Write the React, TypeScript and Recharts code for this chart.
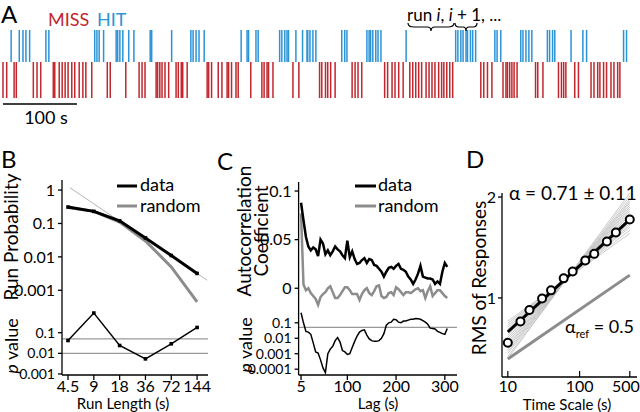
import React from 'react';
import {
  ComposedChart,
  ScatterChart,
  Scatter,
  Line,
  XAxis,
  YAxis,
  ReferenceLine,
} from 'recharts';

const FONT = 'Lato, "Open Sans", "DejaVu Sans", sans-serif';
const RED = '#c1272d';
const BLUE = '#2b93d6';
const GRAY = '#8c8c8c';

// A: response raster, times in seconds
const hitTimes = [
  11, 22, 27, 31, 36, 58, 62, 124, 127, 130, 136, 153, 155, 158, 162, 170, 177, 199, 201, 228,
  254, 257, 261, 265, 272, 322, 330, 332, 342, 345, 374, 377, 381, 384, 386, 396, 405, 411, 412,
  415, 419, 423, 458, 462, 465, 492, 495, 497, 500, 504, 507, 511, 545, 612, 615, 619, 622, 626,
  628, 632, 635, 639, 665, 668, 673, 700, 703, 707, 711, 715, 736, 739, 743, 746, 768, 784, 789,
  839, 843,
];
const missTimes = [
  0, 5, 15, 18, 41, 46, 51, 68, 70, 76, 80, 84, 88, 93, 97, 103, 108, 112, 120, 141, 145, 166,
  184, 188, 192, 207, 209, 212, 215, 219, 224, 234, 237, 241, 243, 249, 276, 278, 282, 291, 296,
  303, 305, 309, 315, 318, 335, 350, 353, 357, 359, 365, 392, 400, 428, 431, 436, 439, 443, 449,
  472, 476, 480, 485, 516, 520, 526, 530, 535, 541, 550, 554, 558, 562, 566, 572, 576, 580, 584,
  589, 593, 596, 600, 604, 608, 646, 650, 655, 661, 676, 680, 682, 685, 688, 691, 695, 720, 723,
  730, 751, 755, 758, 761, 773, 778, 795, 799, 804, 807, 812, 816, 822, 826, 831, 834,
];

// B: run length distribution
const runLengths = [4.5, 9, 18, 36, 72, 144];
const runProbData = [0.31, 0.23, 0.12, 0.037, 0.011, 0.0032];
const runProbRandom = [0.3, 0.23, 0.11, 0.03, 0.005, 0.00045];
const runPValue = [0.042, 0.9, 0.024, 0.0054, 0.029, 0.18];
const runProbTicks = [0.001, 0.01, 0.1, 1];
const runPTicks = [0.001, 0.01, 0.1];

// C: autocorrelation
const lags = [
  5, 10, 15, 20, 25, 30, 35, 40, 45, 50, 55, 60, 65, 70, 75, 80, 85, 90, 95, 100, 105, 110, 115,
  120, 125, 130, 135, 140, 145, 150, 155, 160, 165, 170, 175, 180, 185, 190, 195, 200, 205, 210,
  215, 220, 225, 230, 235, 240, 245, 250, 255, 260, 265, 270, 275, 280, 285, 290, 295, 300, 305,
];
const acData = [
  0.088, 0.07, 0.053, 0.043, 0.039, 0.042, 0.04, 0.033, 0.05, 0.046, 0.035, 0.039, 0.034, 0.038,
  0.043, 0.04, 0.038, 0.034, 0.031, 0.049, 0.032, 0.038, 0.03, 0.025, 0.026, 0.029, 0.031, 0.026,
  0.03, 0.029, 0.024, 0.023, 0.02, 0.017, 0.012, 0.017, 0.021, 0.022, 0.02, 0.023, 0.025, 0.02,
  0.019, 0.017, 0.012, 0.009, 0.0045, 0.009, 0.015, 0.023, 0.012, 0.011, 0.01, 0.01, 0.009, 0.0045,
  0.007, 0.0045, 0.017, 0.026, 0.022,
];
const acRandom = [
  0.077, 0.004, -0.002, 0.0, -0.005, -0.008, -0.011, -0.017, -0.009, -0.006, -0.004, 0.0, 0.002,
  -0.004, -0.01, -0.01, -0.007, -0.003, 0.001, 0.001, -0.002, -0.006, -0.006, -0.006, -0.012,
  -0.006, -0.002, 0.0, -0.005, -0.007, -0.003, 0.002, 0.003, -0.008, -0.01, -0.009, -0.005, -0.004,
  -0.007, 0.001, -0.001, -0.004, -0.007, -0.004, -0.004, -0.005, -0.003, -0.001, 0.0, -0.003,
  -0.002, -0.01, -0.003, 0.002, -0.008, -0.005, -0.002, -0.002, -0.005, -0.008, -0.01,
];
const acPValue = [
  0.45, 0.1, 0.028, 0.025, 0.018, 0.005, 0.0013, 0.0011, 0.0004, 0.00012, 0.00006, 0.001, 0.002,
  0.003, 0.007, 0.011, 0.0056, 0.0016, 0.0013, 0.0009, 0.001, 0.0025, 0.0063, 0.014, 0.025, 0.032,
  0.035, 0.016, 0.009, 0.007, 0.0063, 0.0063, 0.007, 0.01, 0.02, 0.07, 0.1, 0.11, 0.17, 0.16, 0.11,
  0.1, 0.13, 0.13, 0.15, 0.17, 0.17, 0.19, 0.18, 0.17, 0.14, 0.11, 0.08, 0.045, 0.043, 0.04, 0.028,
  0.024, 0.02, 0.018, 0.043,
];
const lagTicks = [5, 100, 200, 300];

// D: RMS vs time scale (log10 units on y)
const timeScales = [10, 15, 20, 30, 40, 60, 80, 120, 160, 240, 320, 500];
const rmsValues = [0.556, 0.767, 0.881, 0.994, 1.075, 1.194, 1.262, 1.372, 1.437, 1.56, 1.648, 1.777];
const fitRange = [10, 500];
const fitValues = [0.663, 1.777];
const refValues = [0.395, 1.226];
const bootStart = [0.4, 0.42, 0.45, 0.47, 0.49, 0.51, 0.53, 0.55, 0.57, 0.59, 0.61, 0.63, 0.65, 0.67, 0.69, 0.71, 0.73, 0.75, 0.77];
const bootEnd = [2.04, 2.01, 1.98, 1.96, 1.94, 1.92, 1.9, 1.88, 1.86, 1.84, 1.82, 1.8, 1.78, 1.76, 1.74, 1.72, 1.7, 1.67, 1.64];

const tickStyle = { fontSize: 16, fill: '#000', fontFamily: FONT };
const smallTick = { fontSize: 14, fill: '#000', fontFamily: FONT };
const axisProps = { stroke: '#000', strokeWidth: 1.3 };

const UpTick = ({ x, y }: any) => (
  <line x1={x} x2={x} y1={y} y2={y - 6} stroke="#000" strokeWidth={1.2} />
);

const DTick = ({ x, y, payload }: any) => {
  // keep the last label inside the page edge
  const last = payload.value === 500;
  return (
    <g>
      <line x1={x} x2={x} y1={y} y2={y - 6} stroke="#000" strokeWidth={1.2} />
      <text x={last ? x + 10 : x} y={y + 15} textAnchor={last ? 'end' : 'middle'} fontSize={16} fontFamily={FONT} fill="#000">
        {payload.value}
      </text>
    </g>
  );
};

const SquareDot = ({ cx, cy }: any) =>
  cx == null ? <g /> : <rect x={cx - 1.8} y={cy - 1.8} width={3.6} height={3.6} fill="#000" />;

const Ring = ({ cx, cy }: any) => (
  <circle cx={cx} cy={cy} r={4} fill="#fff" stroke="#000" strokeWidth={2} />
);

const rasterTick = (color: string, half: number) => (p: any) => (
  <line x1={p.cx} x2={p.cx} y1={p.cy - half} y2={p.cy + half} stroke={color} strokeWidth={1.5} />
);

const fmt = (v: number) => String(v);

function Box({ left, top, children }: { left: number; top: number; children: React.ReactNode }) {
  return <div style={{ position: 'absolute', left, top }}>{children}</div>;
}

export default function App() {
  const hits = hitTimes.map((t) => ({ t, row: 84 }));
  const misses = missTimes.map((t) => ({ t, row: 50 }));
  const runRows = runLengths.map((r, i) => ({
    r,
    data: runProbData[i],
    random: runProbRandom[i],
    p: runPValue[i],
  }));
  const acRows = lags.map((lag, i) => ({ lag, data: acData[i], random: acRandom[i], p: acPValue[i] }));
  const rmsRows = timeScales.map((x, i) => ({ x, y: rmsValues[i] }));

  return (
    <div style={{ position: 'absolute', left: 0, top: 0, width: 640, height: 412, background: '#fff', fontFamily: FONT }}>
      {/* A */}
      <Box left={0} top={30}>
        <ScatterChart width={640} height={100} margin={{ top: 0, right: 12, left: 3, bottom: 0 }}>
          <XAxis dataKey="t" type="number" domain={[0, 845]} hide />
          <YAxis dataKey="row" type="number" domain={[0, 100]} hide />
          <Scatter data={hits} shape={rasterTick(BLUE, 16)} isAnimationActive={false} />
          <Scatter data={misses} shape={rasterTick(RED, 18)} isAnimationActive={false} />
          <ReferenceLine segment={[{ x: 0, y: 26 }, { x: 100, y: 26 }]} stroke="#000" strokeWidth={1.5} />
        </ScatterChart>
      </Box>

      {/* B top */}
      <Box left={0} top={170}>
        <ComposedChart width={215} height={141} data={runRows} margin={{ top: 10, right: 7, left: 0, bottom: 0 }}>
          <XAxis dataKey="r" type="number" scale="log" domain={[3.83, 193]} allowDataOverflow ticks={runLengths}
            height={0} tickLine={false} tickSize={0} tickMargin={0} tick={UpTick} interval={0} {...axisProps} />
          <YAxis type="number" scale="log" domain={[0.00024, 2]} allowDataOverflow ticks={runProbTicks} width={62}
            tickSize={4} tickMargin={3} tick={tickStyle} tickFormatter={fmt} interval={0} {...axisProps} />
          <ReferenceLine segment={[{ x: 4.75, y: 1.17 }, { x: 189, y: 0.002 }]} stroke="#b5b5b5" strokeWidth={1} />
          <Line dataKey="random" stroke={GRAY} strokeWidth={3} dot={false} isAnimationActive={false} />
          <Line dataKey="data" stroke="#000" strokeWidth={3} dot={SquareDot} isAnimationActive={false} />
        </ComposedChart>
      </Box>

      {/* B bottom */}
      <Box left={0} top={311}>
        <ComposedChart width={220} height={95} data={runRows} margin={{ top: 0, right: 12, left: 0, bottom: 0 }}>
          <XAxis dataKey="r" type="number" scale="log" domain={[3.83, 193]} allowDataOverflow ticks={runLengths}
            height={31} tickSize={5} tickMargin={1} tick={tickStyle} interval={0} {...axisProps} />
          <YAxis type="number" scale="log" domain={[0.00089, 1.13]} allowDataOverflow ticks={runPTicks} width={62}
            tickSize={4} tickMargin={3} tick={smallTick} tickFormatter={fmt} interval={0} {...axisProps} />
          <ReferenceLine y={0.05} stroke="#999" strokeWidth={1.2} />
          <ReferenceLine y={0.01} stroke="#999" strokeWidth={1.2} />
          <Line dataKey="p" stroke="#000" strokeWidth={1.5} dot={SquareDot} isAnimationActive={false} />
        </ComposedChart>
      </Box>

      {/* C top */}
      <Box left={210} top={170}>
        <ComposedChart width={247} height={141} data={acRows} margin={{ top: 12, right: 0, left: 0, bottom: 0 }}>
          <XAxis dataKey="lag" type="number" domain={[0, 325]} allowDataOverflow ticks={lagTicks}
            height={0} tickLine={false} tickSize={0} tickMargin={0} tick={UpTick} interval={0} {...axisProps} />
          <YAxis type="number" domain={[-0.0234, 0.1093]} allowDataOverflow ticks={[0, 0.05, 0.1]} width={88.6}
            tickSize={4} tickMargin={3} tick={tickStyle} tickFormatter={fmt} interval={0} {...axisProps} />
          <Line dataKey="random" stroke={GRAY} strokeWidth={2.5} dot={false} isAnimationActive={false} />
          <Line dataKey="data" stroke="#000" strokeWidth={2.5} dot={false} isAnimationActive={false} />
        </ComposedChart>
      </Box>

      {/* C bottom */}
      <Box left={210} top={311}>
        <ComposedChart width={262} height={95} data={acRows} margin={{ top: 0, right: 15, left: 0, bottom: 0 }}>
          <XAxis dataKey="lag" type="number" domain={[0, 325]} allowDataOverflow ticks={lagTicks}
            height={31} tickSize={5} tickMargin={1} tick={tickStyle} interval={0} {...axisProps} />
          <YAxis type="number" scale="log" domain={[0.000042, 0.58]} allowDataOverflow ticks={[0.0001, 0.001, 0.01, 0.1]}
            width={88.6} tickSize={4} tickMargin={3} tick={smallTick} tickFormatter={fmt} interval={0} {...axisProps} />
          <ReferenceLine y={0.05} stroke="#999" strokeWidth={1.2} />
          <Line dataKey="p" stroke="#000" strokeWidth={1.5} dot={false} isAnimationActive={false} />
        </ComposedChart>
      </Box>

      {/* D */}
      <Box left={420} top={170}>
        <ComposedChart width={220} height={235} margin={{ top: 23, right: 3, left: 0, bottom: 0 }}>
          <XAxis dataKey="x" type="number" scale="log" domain={[8.3, 630]} allowDataOverflow ticks={[10, 100, 500]}
            height={28} tickLine={false} tickSize={0} tickMargin={0} tick={DTick} interval={0} {...axisProps} />
          <YAxis type="number" domain={[0.2165, 2]} ticks={[1, 2]} width={82}
            tickSize={4} tickMargin={2} tick={tickStyle} interval={0} {...axisProps} />
          {bootStart.map((s, i) => (
            <Line key={'b' + i} data={[{ x: fitRange[0], y: s }, { x: fitRange[1], y: bootEnd[i] }]} dataKey="y"
              stroke="#bdbdbd" strokeWidth={0.8} dot={false} isAnimationActive={false} />
          ))}
          <Line data={[{ x: fitRange[0], y: refValues[0] }, { x: fitRange[1], y: refValues[1] }]} dataKey="y"
            stroke={GRAY} strokeWidth={3} dot={false} isAnimationActive={false} />
          <Line data={[{ x: fitRange[0], y: fitValues[0] }, { x: fitRange[1], y: fitValues[1] }]} dataKey="y"
            stroke="#000" strokeWidth={3} dot={false} isAnimationActive={false} />
          <Scatter data={rmsRows} dataKey="y" shape={Ring} isAnimationActive={false} />
        </ComposedChart>
      </Box>

      {/* labels */}
      <svg width={640} height={412} style={{ position: 'absolute', left: 0, top: 0, pointerEvents: 'none' }}
        fontFamily={FONT} fill="#000">
        <text x={1} y={23} fontSize={24}>A</text>
        <text x={48} y={26} fontSize={18} fill={RED}>MISS</text>
        <text x={97} y={26} fontSize={18} fill={BLUE}>HIT</text>
        <text x={407} y={21} fontSize={17}>
          run <tspan fontStyle="italic">i</tspan>, <tspan fontStyle="italic">i</tspan> + 1,  ...
        </text>
        <path d="M408,23 Q408,27 414,27 L427,27 Q431,27 431,31 Q431,27 435,27 L448,27 Q454,27 454,23" fill="none" stroke="#000" strokeWidth={1.2} />
        <path d="M455,23 Q455,27 459,27 L463,27 Q466,27 466,31 Q466,27 469,27 L473,27 Q477,27 477,23" fill="none" stroke="#000" strokeWidth={1.2} />
        <text x={46} y={124} fontSize={18} textAnchor="middle">100 s</text>

        <text x={1} y={168} fontSize={24}>B</text>
        <text x={217} y={170} fontSize={24}>C</text>
        <text x={466} y={168} fontSize={24}>D</text>

        <line x1={117} x2={137} y1={186} y2={186} stroke="#000" strokeWidth={3} />
        <text x={140} y={191} fontSize={18}>data</text>
        <line x1={117} x2={137} y1={206} y2={206} stroke={GRAY} strokeWidth={3} />
        <text x={140} y={212} fontSize={18}>random</text>

        <line x1={355} x2={376} y1={186} y2={186} stroke="#000" strokeWidth={3} />
        <text x={378} y={191} fontSize={18}>data</text>
        <line x1={355} x2={376} y1={206} y2={206} stroke={GRAY} strokeWidth={3} />
        <text x={378} y={212} fontSize={18}>random</text>

        <text transform="translate(18,237) rotate(-90)" fontSize={19} textAnchor="middle">Run Probability</text>
        <text transform="translate(18,346) rotate(-90)" fontSize={18} textAnchor="middle">
          <tspan fontStyle="italic">p</tspan> value
        </text>
        <text transform="translate(251,231) rotate(-90)" fontSize={19} textAnchor="middle">Autocorrelation</text>
        <text transform="translate(268,231) rotate(-90)" fontSize={19} textAnchor="middle">Coefficient</text>
        <text transform="translate(252,345) rotate(-90)" fontSize={18} textAnchor="middle">
          <tspan fontStyle="italic">p</tspan> value
        </text>
        <text transform="translate(486,278) rotate(-90)" fontSize={19} textAnchor="middle">RMS of Responses</text>

        <text x={123} y={409} fontSize={15} textAnchor="middle">Run Length (s)</text>
        <text x={378} y={409} fontSize={15} textAnchor="middle">Lag (s)</text>
        <text x={567} y={410} fontSize={15} textAnchor="middle">Time Scale (s)</text>

        <text x={509} y={200} fontSize={19}>α = 0.71 ± 0.11</text>
        <text x={565} y={333} fontSize={18}>
          α<tspan fontSize={11} dy={5}>ref</tspan><tspan dy={-5}> = 0.5</tspan>
        </text>
      </svg>
    </div>
  );
}
